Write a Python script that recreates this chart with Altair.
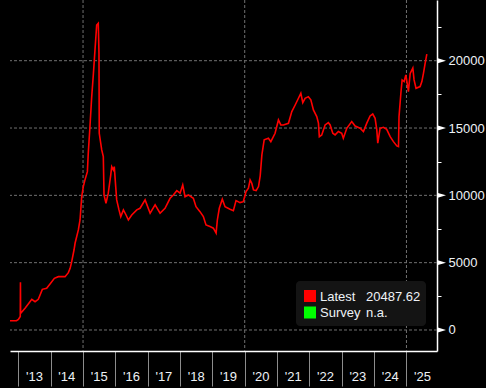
import altair as alt
import pandas as pd

# ---- data ----
dates = [
    "2012-09-28", "2012-12-10", "2013-01-01", "2013-01-22", "2013-01-24", "2013-01-26",
    "2013-03-17", "2013-05-01", "2013-06-01", "2013-07-08", "2013-08-14", "2013-09-28",
    "2013-11-16", "2013-12-24", "2014-02-11", "2014-03-28", "2014-06-12", "2014-07-19",
    "2014-08-08", "2014-08-26", "2014-09-21", "2014-10-03", "2014-11-09", "2014-11-28",
    "2014-12-17", "2015-01-04", "2015-01-23", "2015-02-19", "2015-03-01", "2015-03-20",
    "2015-04-09", "2015-04-27", "2015-05-16", "2015-06-04", "2015-06-22", "2015-06-30",
    "2015-07-03", "2015-07-31", "2015-08-18", "2015-08-26", "2015-09-17", "2015-10-13",
    "2015-11-10", "2015-11-21", "2015-12-09", "2015-12-20", "2016-01-05", "2016-01-16",
    "2016-02-11", "2016-03-02", "2016-04-01", "2016-05-01", "2016-05-27", "2016-07-04",
    "2016-08-30", "2016-10-06", "2016-12-02", "2017-01-28", "2017-03-25", "2017-05-20",
    "2017-07-15", "2017-09-10", "2017-10-17", "2017-11-25", "2018-01-01", "2018-01-31",
    "2018-02-26", "2018-04-04", "2018-05-31", "2018-06-30", "2018-08-14", "2018-09-21",
    "2018-10-21", "2018-12-05", "2019-01-12", "2019-02-12", "2019-02-26", "2019-03-20",
    "2019-04-23", "2019-05-24", "2019-07-19", "2019-08-26", "2019-09-25", "2019-11-09",
    "2019-12-16", "2020-01-16", "2020-02-12", "2020-03-02", "2020-03-21", "2020-04-09",
    "2020-05-09", "2020-06-05", "2020-06-24", "2020-07-13", "2020-08-08", "2020-09-25",
    "2020-10-22", "2020-12-09", "2021-01-16", "2021-02-12", "2021-03-13", "2021-05-09",
    "2021-06-16", "2021-07-24", "2021-08-30", "2021-09-26", "2021-10-18", "2021-11-13",
    "2021-12-20", "2022-01-17", "2022-02-15", "2022-03-25", "2022-04-13", "2022-04-23",
    "2022-05-20", "2022-06-27", "2022-08-03", "2022-08-23", "2022-09-22", "2022-10-18",
    "2022-11-24", "2023-01-01", "2023-01-19", "2023-02-27", "2023-04-24", "2023-06-01",
    "2023-07-27", "2023-09-03", "2023-10-11", "2023-11-17", "2023-12-17", "2024-01-13",
    "2024-02-01", "2024-02-12", "2024-03-09", "2024-04-16", "2024-05-23", "2024-07-01",
    "2024-08-07", "2024-09-14", "2024-10-03", "2024-10-09", "2024-10-30", "2024-11-13",
    "2024-12-06", "2024-12-25", "2025-01-12", "2025-01-23", "2025-02-12", "2025-03-14",
    "2025-03-28", "2025-04-19", "2025-06-04", "2025-06-24", "2025-07-12", "2025-07-31",
    "2025-08-19",
]
values = [
    690, 690, 780, 1000, 3540, 1240,
    1610, 2000, 2280, 2100, 2280, 3020,
    3100, 3420, 3840, 3960, 3960, 4260,
    4580, 5080, 5940, 6440, 7430, 8170,
    9900, 10650, 11150, 11760, 13130, 15100,
    17330, 18940, 20800, 22650, 22780, 20570,
    14610, 13370, 12880, 10030, 9410, 10160,
    11520, 12130, 11890, 12130, 10650, 9660,
    8920, 8420, 8920, 8540, 8170, 8540,
    8920, 9040, 9660, 8670, 9290, 8670,
    9040, 9780, 10030, 10350, 10160, 10770,
    9900, 10030, 9780, 9160, 8790, 8420,
    7800, 7680, 7560, 7190, 8170, 9040,
    9710, 9160, 8970, 8860, 9610, 9460,
    9530, 10280, 10530, 11150, 10900, 10400,
    10350, 10650, 11450, 13000, 14120, 14240,
    13990, 14610, 15600, 15230, 15230, 15350,
    16220, 16710, 17210, 17580, 16880, 17210,
    17330, 17090, 16350, 15850, 15360, 14360,
    14490, 15230, 15400, 15230, 14610, 14490,
    14740, 14610, 14240, 14980, 15480, 15150,
    14980, 14740, 15360, 15900, 16040, 15720,
    14860, 13870, 14980, 15050, 14900, 14360,
    13990, 13670, 13620, 15850, 17580, 18570,
    18450, 18940, 18200, 17700, 19060, 19450,
    18570, 17950, 18080, 18450, 19060, 19810,
    20487.62,
]
years = list(range(2013, 2026))
year_labels = ["'" + str(y)[2:] for y in years]
major_ticks = [0, 5000, 10000, 15000, 20000]
all_ticks = [0, 2500, 5000, 7500, 10000, 12500, 15000, 17500, 20000, 22500]
vgrid_dates = ["2015-01-01", "2020-01-01", "2025-01-01"]
legend_names = ["Latest", "Survey"]
legend_texts = [f"{values[-1]:.2f}", "n.a."]
legend_colors = ["#ff0000", "#00ff00"]

# ---- layout ----
W, H = 427, 351
TXT = "#eef2f6"
FONT = "Liberation Sans"
GRID = "#707070"

xscale = alt.Scale(
    type="utc",
    domain=[alt.DateTime(year=2012, month=9, date=28, utc=True),
            alt.DateTime(year=2025, month=12, date=12, utc=True)],
)
yscale = alt.Scale(domain=[-1560, 24508], nice=False, zero=False)

x_axis = alt.Axis(
    values=[alt.DateTime(year=y, month=1, date=1, utc=True) for y in years],
    labels=False, tickSize=35, tickColor="#8c8c8c", tickWidth=1,
    domainColor="#ffffff", domainWidth=1.5, grid=False, title=None,
)
y_axis = alt.Axis(
    orient="right", values=all_ticks, format="d",
    labelExpr="datum.value % 5000 == 0 ? datum.label : ''",
    tickSize=4, tickColor="#ffffff", tickWidth=1,
    domainColor="#ffffff", domainWidth=1.5,
    labelColor=TXT, labelFont=FONT, labelFontSize=13, labelPadding=7,
    labelAlign="left", labelBaseline="middle", grid=False, title=None,
)

df = pd.DataFrame({"date": dates, "value": values})

line = alt.Chart(df).mark_line(color="#ff0000", strokeWidth=1.6, clip=True).encode(
    x=alt.X("date:T", scale=xscale, axis=x_axis),
    y=alt.Y("value:Q", scale=yscale, axis=y_axis),
)

hgrid = alt.Chart(pd.DataFrame({"v": major_ticks})).mark_rule(
    color=GRID, strokeDash=[3, 2], strokeWidth=1
).encode(y=alt.Y("v:Q", scale=yscale, axis=y_axis))

vgrid = alt.Chart(pd.DataFrame({"d": vgrid_dates})).mark_rule(
    color=GRID, strokeDash=[3, 2], strokeWidth=1
).encode(x=alt.X("d:T", scale=xscale, axis=x_axis))

tri = alt.Chart(pd.DataFrame({"v": major_ticks})).mark_point(
    shape="M-1,-0.6L1,0L-1,0.6Z", filled=True, color="#ffffff", size=81, opacity=1
).encode(y=alt.Y("v:Q", scale=yscale, axis=y_axis), x=alt.value(W + 4.5))

ylab = alt.Chart(pd.DataFrame({"d": [f"{y}-07-02" for y in years], "t": year_labels})).mark_text(
    color=TXT, font=FONT, fontSize=13, align="center", baseline="middle"
).encode(x=alt.X("d:T", scale=xscale, axis=x_axis), y=alt.value(H + 26), text="t:N")

box = alt.Chart(pd.DataFrame({"a": [0]})).mark_rect(
    color="#141414", cornerRadius=4
).encode(x=alt.value(286), x2=alt.value(416), y=alt.value(281), y2=alt.value(326))

legend_layers = []
for i in range(2):
    yc = 296 + 16.5 * i
    row = pd.DataFrame({"n": [legend_names[i]], "t": [legend_texts[i]], "c": [legend_colors[i]]})
    base = alt.Chart(row)
    legend_layers.append(base.mark_rect().encode(
        x=alt.value(294), x2=alt.value(306), y=alt.value(yc - 6), y2=alt.value(yc + 6),
        color=alt.Color("c:N", scale=None)))
    legend_layers.append(base.mark_text(
        color=TXT, font=FONT, fontSize=13, align="left", baseline="middle"
    ).encode(x=alt.value(310), y=alt.value(yc + 0.5), text="n:N"))
    legend_layers.append(base.mark_text(
        color=TXT, font=FONT, fontSize=13, align="left", baseline="middle"
    ).encode(x=alt.value(356), y=alt.value(yc + 0.5), text="t:N"))

chart = alt.layer(hgrid, vgrid, line, box, *legend_layers, tri, ylab).properties(
    width=W, height=H,
    background="#000000",
    padding={"left": 10, "top": 0, "right": 49, "bottom": 37},
    autosize=alt.AutoSizeParams(type="none"),
).configure_view(strokeWidth=0)

chart.save("out.html", embed_options={"renderer": "svg", "actions": False})
